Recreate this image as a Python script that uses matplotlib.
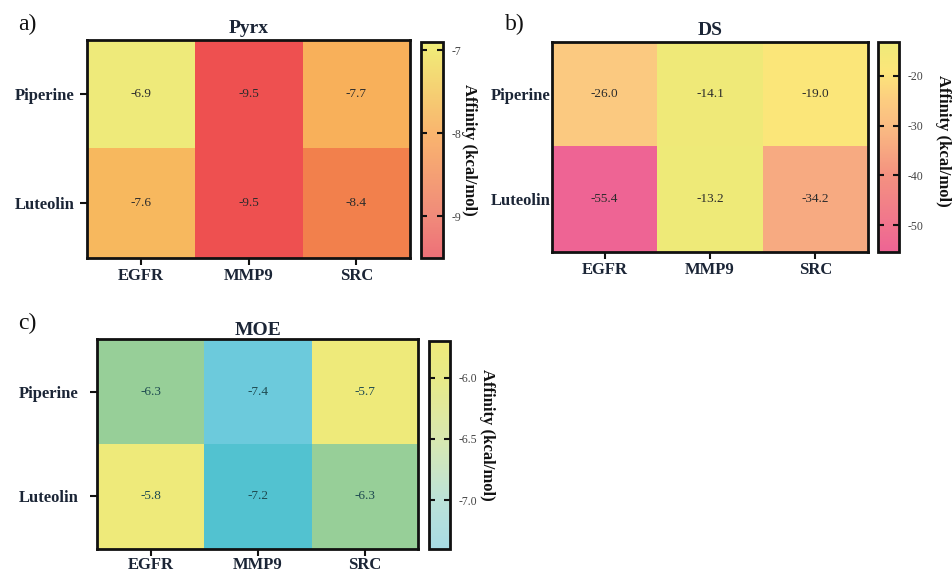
import numpy as np
import matplotlib as mpl
from matplotlib import pyplot as plt
from matplotlib.colors import LinearSegmentedColormap, Normalize

mpl.use("agg")
mpl.rcParams["font.family"] = ["Liberation Serif", "DejaVu Serif"]

targets = ["EGFR", "MMP9", "SRC"]
ligands = ["Piperine", "Luteolin"]

pyrx = np.array([[-6.9, -9.5, -7.7], [-7.6, -9.5, -8.4]])
ds = np.array([[-26.0, -14.1, -19.0], [-55.4, -13.2, -34.2]])
moe = np.array([[-6.3, -7.4, -5.7], [-5.8, -7.2, -6.3]])

pyrx_ticks = [-7, -8, -9]
ds_ticks = [-20, -30, -40, -50]
moe_ticks = [-6.0, -6.5, -7.0]

# colormaps: one for the cells, a lighter one for the colour bar
pyrx_cell = LinearSegmentedColormap.from_list(
    "pyrx_cell", [(0, "#ee5050"), (0.42, "#f2804c"), (0.69, "#f9b05a"), (1, "#eeea7a")])
pyrx_bar = LinearSegmentedColormap.from_list(
    "pyrx_bar", [(0, "#ee7078"), (0.19, "#f08a7a"), (0.58, "#f9b56e"), (1, "#f0ee78")])
ds_cmap = LinearSegmentedColormap.from_list(
    "ds", [(0, "#ee6494"), (0.37, "#f49280"), (0.6, "#fabc82"), (0.72, "#fccc80"),
           (0.86, "#fce67a"), (1, "#eeea78")])
moe_cell = LinearSegmentedColormap.from_list(
    "moe_cell", [(0, "#6ccadc"), (0.12, "#52c2d0"), (0.65, "#98d098"), (0.94, "#eeea7a"), (1, "#eeea7a")])
moe_bar = LinearSegmentedColormap.from_list(
    "moe_bar", [(0, "#a8dce4"), (0.24, "#bce2d8"), (0.53, "#d8e8b0"), (0.82, "#e8ea88"), (1, "#eeea7a")])

navy = "#1b2536"

fig = plt.figure(figsize=(9.52, 5.76), dpi=100)


def heatmap(ax_rect, cb_rect, data, cell_cmap, bar_cmap, ticks, fmt, title, title_pad,
            ylab_pad, ytick_len, xlab_pad, txt_color, label_x, label_y):
    ax = fig.add_axes(ax_rect)
    cax = fig.add_axes(cb_rect)
    norm = Normalize(vmin=data.min(), vmax=data.max())
    ax.imshow(data, cmap=cell_cmap, norm=norm, aspect="auto", interpolation="nearest")
    for i in range(data.shape[0]):
        for j in range(data.shape[1]):
            ax.text(j, i, f"{data[i, j]:.1f}", ha="center", va="center",
                    fontsize=9.5, color=txt_color)
    ax.set_xticks(range(len(targets)))
    ax.set_xticklabels(targets)
    ax.set_yticks(range(len(ligands)))
    ax.set_yticklabels(ligands)
    for lab in ax.get_xticklabels() + ax.get_yticklabels():
        lab.set_fontweight("bold")
        lab.set_fontsize(12)
        lab.set_color(navy)
    ax.tick_params(axis="x", length=5, width=1.5, pad=xlab_pad, color="#111111")
    ax.tick_params(axis="y", length=ytick_len, width=1.5, pad=ylab_pad, color="#111111")
    for s in ax.spines.values():
        s.set_linewidth(2)
        s.set_color("#111111")
    ax.set_title(title, fontsize=14, fontweight="bold", color=navy, pad=title_pad)

    sm = mpl.cm.ScalarMappable(norm=norm, cmap=bar_cmap)
    cb = fig.colorbar(sm, cax=cax, ticks=ticks)
    cb.outline.set_linewidth(2)
    cb.outline.set_edgecolor("#111111")
    cax.tick_params(direction="in", left=True, right=True, length=4, width=1.5,
                    pad=6, labelsize=8.5, labelcolor="#444444", color="#111111")
    cb.ax.set_yticklabels([fmt.format(t) for t in ticks])
    cax.text(label_x, label_y, "Affinity (kcal/mol)", transform=cax.transAxes,
             rotation=-90, ha="center", va="center", fontsize=12, fontweight="bold",
             color="#111111")
    return ax


heatmap([0.0914, 0.5521, 0.3393, 0.3785], [0.4422, 0.5521, 0.0231, 0.375],
        pyrx, pyrx_cell, pyrx_bar, pyrx_ticks, "{:g}", "Pyrx", 5, 4, 5, 2,
        "#2b2b2b", 2.2, 0.5)
heatmap([0.5798, 0.5625, 0.3319, 0.3646], [0.9223, 0.5625, 0.0221, 0.3646],
        ds, ds_cmap, ds_cmap, ds_ticks, "{:g}", "DS", 5, 1, 0, 2,
        "#2b2b2b", 3.1, 0.53)
heatmap([0.1019, 0.0469, 0.3372, 0.3645], [0.4506, 0.0469, 0.0221, 0.361],
        moe, moe_cell, moe_bar, moe_ticks, "{:.1f}", "MOE", 3, 8, 5, 1,
        "#1e4a50", 2.75, 0.55)

fig.text(0.019, 0.957, "a)", fontsize=17, va="center", color="#111111")
fig.text(0.530, 0.957, "b)", fontsize=17, va="center", color="#111111")
fig.text(0.019, 0.439, "c)", fontsize=17, va="center", color="#111111")

fig.savefig("out.png", dpi=100)
plt.close(fig)
